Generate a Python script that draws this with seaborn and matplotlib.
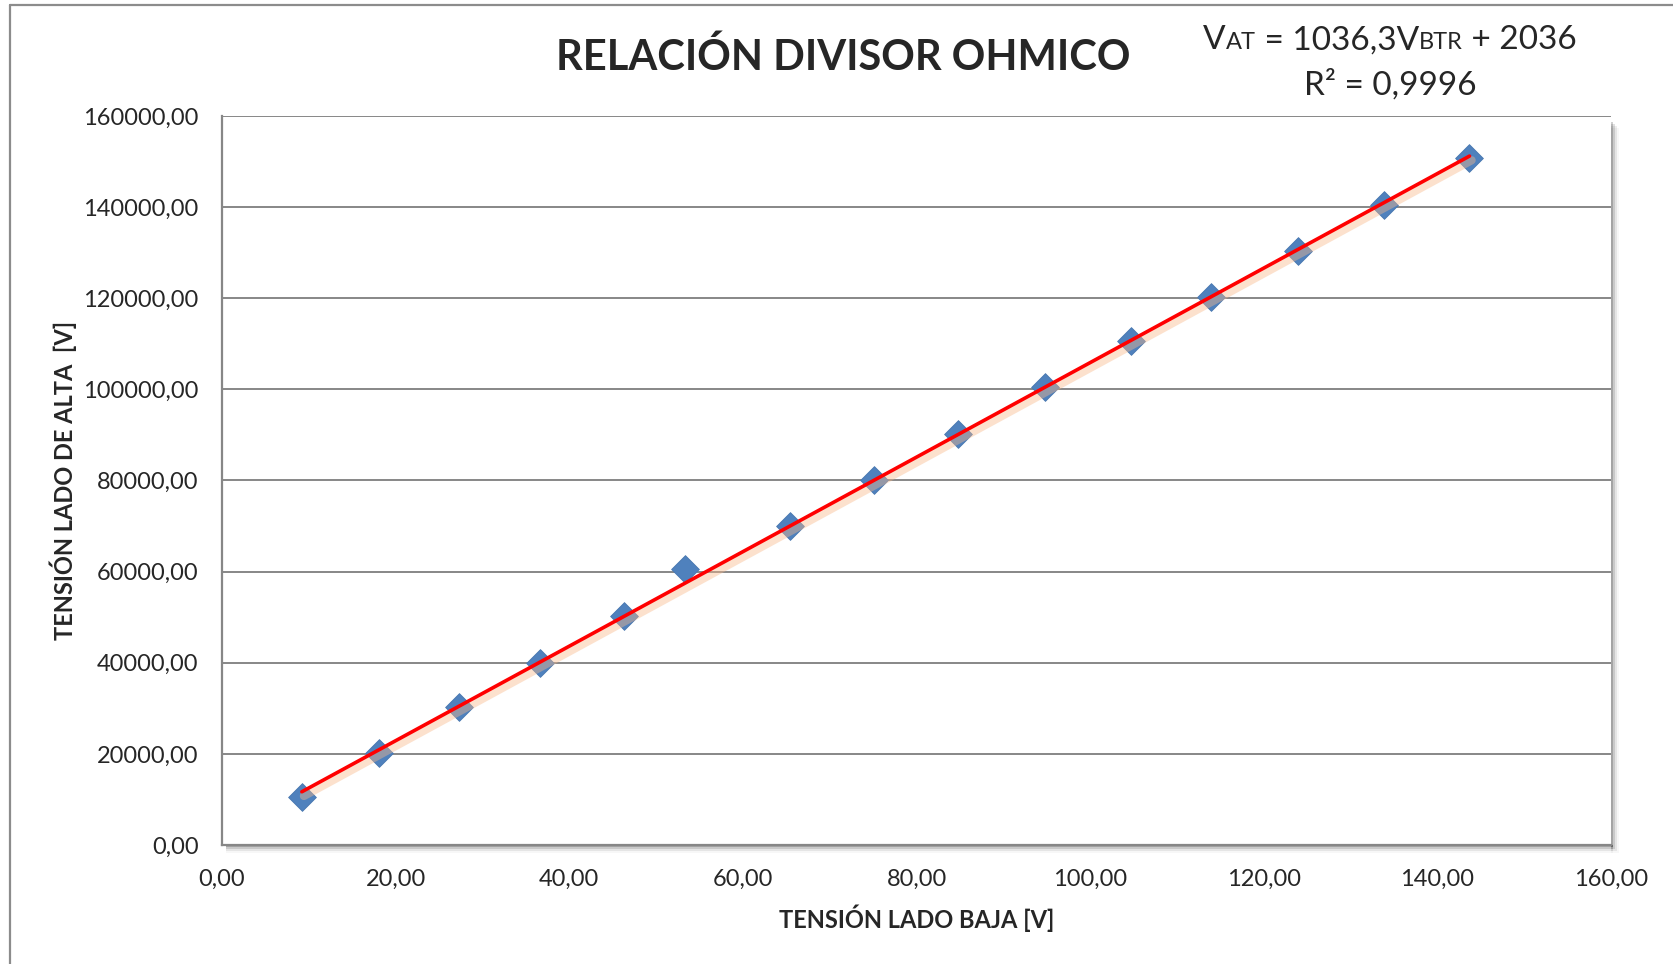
import numpy as np
import pandas as pd
import matplotlib
matplotlib.use("Agg")
import matplotlib.pyplot as plt
import matplotlib.patheffects as pe
from matplotlib.ticker import FuncFormatter
from matplotlib.offsetbox import TextArea, HPacker, VPacker, AnchoredOffsetbox
from matplotlib.patches import Rectangle
from matplotlib.lines import Line2D
import seaborn as sns

# ---- data ----
v_baja = [9.2, 18.1, 27.3, 36.6, 46.3, 53.3, 65.4, 75.1, 84.8, 94.8, 104.7, 113.9, 123.9, 133.8, 143.7]
v_alta = [10500, 20100, 30200, 40000, 50300, 60600, 70000, 80100, 90300, 100500, 110700, 120200, 130400, 140500, 150800]
x_ticks = [0, 20, 40, 60, 80, 100, 120, 140, 160]
y_ticks = [0, 20000, 40000, 60000, 80000, 100000, 120000, 140000, 160000]
title = "RELACIÓN DIVISOR OHMICO"
x_label = "TENSIÓN LADO BAJA [V]"
y_label = "TENSIÓN LADO DE ALTA  [V]"
eq_parts = [("V", False), ("AT", True), (" = 1036,3V", False), ("BTR", True), (" + 2036", False)]
r2_text = "R² = 0,9996"

df = pd.DataFrame({"baja": v_baja, "alta": v_alta})

sns.set_style("white")
plt.rcParams["font.family"] = ["Lato", "DejaVu Sans"]

W, H = 1673, 964
fig = plt.figure(figsize=(W / 100, H / 100), dpi=100)
L, R, T, B = 222, 1611, 116, 845
ax = fig.add_axes([L / W, 1 - B / H, (R - L) / W, (B - T) / H])

grid_c = "#878787"

# plot area shadow
for i, a in enumerate([0.18, 0.12, 0.07, 0.03]):
    fig.add_artist(Rectangle((R / W, (H - B - 2 - i * 2) / H), (2 + i * 2) / W, (B - T - 4) / H,
                             transform=fig.transFigure, color="k", alpha=a, lw=0, zorder=0))
    fig.add_artist(Rectangle(((L + 4) / W, (H - B - 2 - i * 2) / H), (R - L - 2) / W, (2 + i * 2) / H,
                             transform=fig.transFigure, color="k", alpha=a, lw=0, zorder=0))

ax.set_facecolor("white")
ax.set_zorder(1)

# trend line
sns.regplot(data=df, x="baja", y="alta", scatter=False, ci=None, ax=ax, truncate=True,
            line_kws=dict(color="#FF0000", lw=2.6, zorder=3, solid_capstyle="round",
                          path_effects=[pe.SimpleLineShadow(offset=(1.5, -3.0), shadow_color="#F8B98A",
                                                            alpha=0.42, linewidth=6),
                                        pe.Normal()]))
# points
sns.scatterplot(data=df, x="baja", y="alta", marker="D", s=200, color="#4F81BD",
                edgecolor="#4A78B0", linewidth=0.6, ax=ax, zorder=2)

ax.set_xlim(0, 160)
ax.set_ylim(0, 160000)
ax.set_xticks(x_ticks)
ax.set_yticks(y_ticks)
fmt = FuncFormatter(lambda v, p: f"{v:.2f}".replace(".", ","))
ax.xaxis.set_major_formatter(fmt)
ax.yaxis.set_major_formatter(fmt)
ax.tick_params(axis="both", labelsize=17, length=5, width=1.3, color=grid_c, direction="out")
ax.tick_params(axis="y", pad=12)
ax.tick_params(axis="x", pad=12)
ax.yaxis.grid(True, color=grid_c, lw=1.4)
ax.xaxis.grid(False)
ax.set_axisbelow(True)
for s in ["top", "right"]:
    ax.spines[s].set_visible(False)
for s in ["left", "bottom"]:
    ax.spines[s].set_color(grid_c)
    ax.spines[s].set_linewidth(1.6)
ax.set_xlabel("")
ax.set_ylabel("")

# titles and labels
fig.text(843 / W, 1 - 57 / H, title, ha="center", va="center", fontsize=30, fontweight="bold")
fig.text(917 / W, 1 - 918 / H, x_label, ha="center", va="center", fontsize=17, fontweight="bold")
fig.text(63 / W, 1 - 480 / H, y_label, ha="center", va="center", fontsize=17, fontweight="bold",
         rotation=90)

# equation box
big, small = 24, 17
pieces = [TextArea(t, textprops=dict(fontsize=small if sub else big, family=["Lato", "DejaVu Sans"]))
          for t, sub in eq_parts]
line1 = HPacker(children=pieces, align="baseline", pad=0, sep=0)
line2 = TextArea(r2_text, textprops=dict(fontsize=big, family=["Lato", "DejaVu Sans"]))
box = VPacker(children=[line1, line2], align="center", pad=0, sep=10)
anch = AnchoredOffsetbox(loc="center", child=box, frameon=False, pad=0, borderpad=0,
                         bbox_to_anchor=(1390 / W, 1 - 63 / H), bbox_transform=fig.transFigure)
fig.add_artist(anch)

# outer chart border
fig.add_artist(Line2D([10 / W, 10 / W], [0, 1 - 4.5 / H], transform=fig.transFigure, color="#8C8C8C", lw=1.6))
fig.add_artist(Line2D([10 / W, 1], [1 - 4.5 / H, 1 - 4.5 / H], transform=fig.transFigure, color="#8C8C8C", lw=1.6))

fig.savefig("out.png", dpi=100, facecolor="white")
